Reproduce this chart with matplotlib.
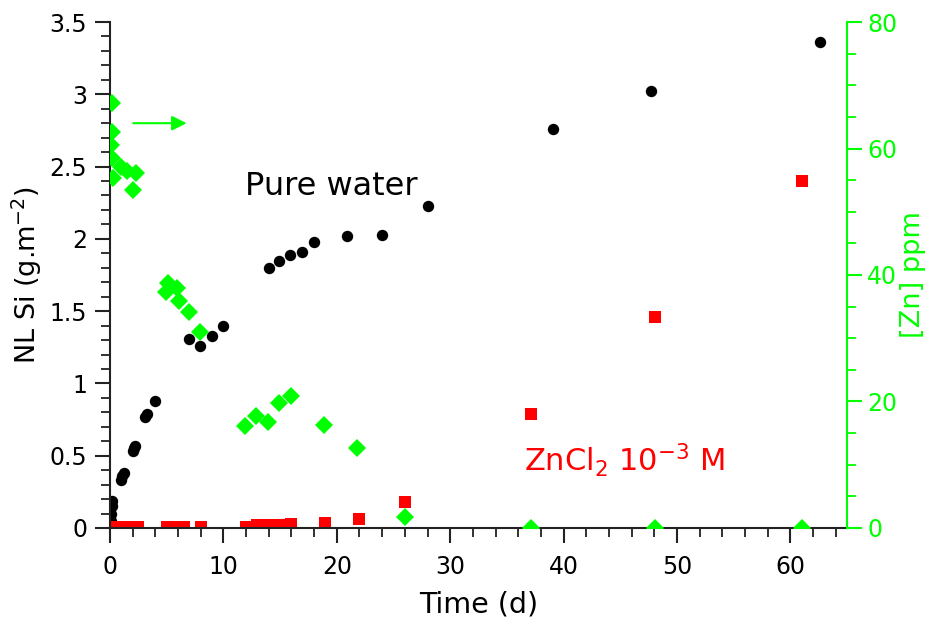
import numpy as np
import matplotlib.pyplot as plt
from matplotlib.ticker import MultipleLocator

# pure water: Si normalised loss (g/m2) vs time (d)
water_t = [0.05, 0.1, 0.15, 0.2, 1.0, 1.1, 1.2, 2.0, 2.1, 2.2, 3.1, 3.3, 4.0,
           7.0, 7.9, 9.0, 10.0, 14.0, 14.9, 15.9, 16.9, 18.0, 20.9, 24.0, 28.0,
           39.1, 47.7, 62.6]
water_si = [0.05, 0.1, 0.15, 0.19, 0.33, 0.36, 0.38, 0.53, 0.55, 0.57, 0.77, 0.79, 0.88,
            1.31, 1.26, 1.33, 1.40, 1.80, 1.85, 1.89, 1.91, 1.98, 2.02, 2.03, 2.23,
            2.76, 3.02, 3.36]

# ZnCl2 1e-3 M: Si normalised loss
zn_t = [0.3, 1.0, 1.5, 2.0, 2.5, 5.0, 5.5, 6.0, 6.5, 8.0,
        12.0, 13.0, 13.5, 14.0, 14.5, 15.0, 16.0, 19.0, 22.0, 26.0, 37.1, 48.1, 61.0]
zn_si = [0.01, 0.01, 0.01, 0.01, 0.01, 0.01, 0.01, 0.01, 0.01, 0.01,
         0.01, 0.02, 0.02, 0.02, 0.02, 0.02, 0.03, 0.035, 0.06, 0.18, 0.79, 1.46, 2.40]

# ZnCl2 1e-3 M: zinc in solution (ppm)
znc_t = [0.15, 0.2, 0.1, 0.15, 0.3, 1.0, 1.5, 2.3, 2.0,
         5.1, 4.95, 5.9, 6.1, 7.0, 7.9, 11.9, 12.9, 13.9, 14.9, 16.0, 18.9, 21.8, 26.0,
         37.1, 48.1, 61.0]
znc_ppm = [67.2, 62.6, 60.5, 58.5, 55.3, 57.0, 56.4, 56.1, 53.4,
           38.7, 37.3, 37.9, 35.9, 34.2, 31.0, 16.1, 17.7, 16.8, 19.8, 20.9, 16.3, 12.6, 1.7,
           0.0, 0.0, 0.0]

green = '#00ff00'
red = '#ff0000'
dark = '#222222'

plt.rcParams['font.family'] = ['DejaVu Sans']
plt.rcParams['mathtext.fontset'] = 'dejavusans'

fig = plt.figure(figsize=(9.34, 6.29), dpi=100)
ax = fig.add_axes([0.1178, 0.1606, 0.7891, 0.8044])
ax2 = ax.twinx()

ax.plot(water_t, water_si, 'o', color='black', ms=8.2, mew=0)
ax.plot(zn_t, zn_si, 's', color=red, ms=9, mew=0)
ax2.plot(znc_t, znc_ppm, 'D', color=green, ms=8.8, mew=0)

ax.set_xlim(0, 65)
ax.set_ylim(0, 3.5)
ax2.set_ylim(0, 80)

ax.xaxis.set_major_locator(MultipleLocator(10))
ax.xaxis.set_minor_locator(MultipleLocator(2))
ax.yaxis.set_major_locator(MultipleLocator(0.5))
ax.yaxis.set_minor_locator(MultipleLocator(0.1))
ax2.yaxis.set_major_locator(MultipleLocator(20))
ax2.yaxis.set_minor_locator(MultipleLocator(5))

for a in (ax, ax2):
    a.spines['top'].set_visible(False)
ax.spines['right'].set_visible(False)
ax2.spines['left'].set_visible(False)
ax2.spines['bottom'].set_visible(False)
ax2.spines['right'].set_color(green)
ax.spines['left'].set_color(dark)
ax.spines['bottom'].set_color(dark)
for a in (ax, ax2):
    for s in a.spines.values():
        s.set_linewidth(1.5)

ax.tick_params(which='major', length=10.5, width=1.5, labelsize=17, color=dark)
ax.tick_params(which='minor', length=6.5, width=1.3, color=dark)
ax.tick_params(axis='x', which='major', pad=9)
ax.tick_params(axis='y', which='major', pad=6)
ax2.tick_params(which='major', length=10.5, width=1.5, labelsize=17, color=green,
                labelcolor=green, pad=4)
ax2.tick_params(which='minor', length=6.5, width=1.3, color=green)

ax.set_yticks([0, 0.5, 1, 1.5, 2, 2.5, 3, 3.5])
ax.set_yticklabels(['0', '0.5', '1', '1.5', '2', '2.5', '3', '3.5'])

ax.set_xlabel('Time (d)', fontsize=20.5, labelpad=8)
ax.set_ylabel(r'NL Si (g.m$^{-2}$)', fontsize=19.5, labelpad=4)
ax2.set_ylabel('[Zn] ppm', fontsize=19.5, color=green, labelpad=2)

ax.text(11.9, 2.3, 'Pure water', fontsize=23, color='black')
ax.text(36.5, 0.39, r'ZnCl$_2$ 10$^{-3}$ M', fontsize=22, color=red)

ax2.annotate('', xy=(7.0, 64), xytext=(1.8, 64),
             arrowprops=dict(arrowstyle='-|>', color=green, lw=1.5, mutation_scale=22))

fig.savefig('out.png', dpi=100)
